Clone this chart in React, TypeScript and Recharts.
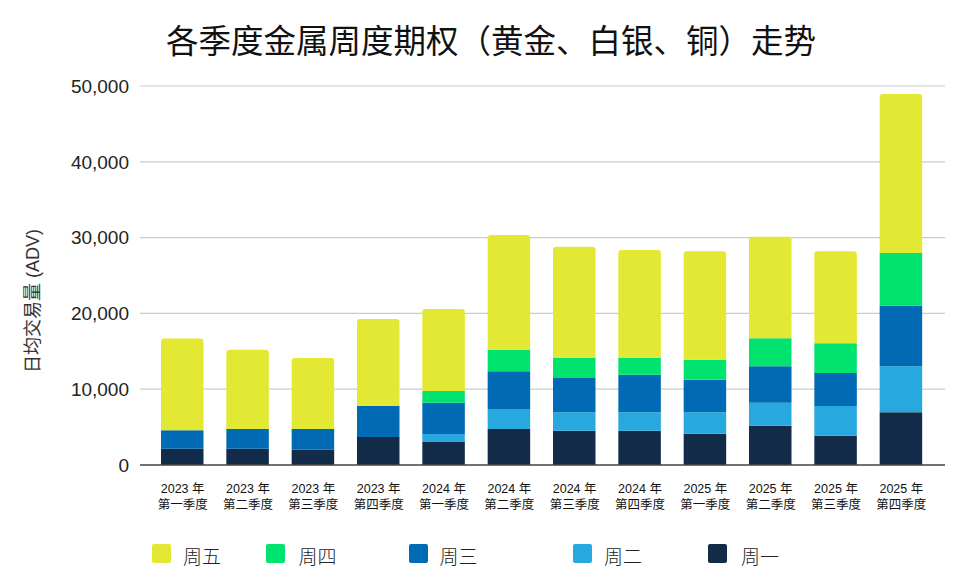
import { BarChart, Bar, XAxis, YAxis, CartesianGrid } from 'recharts'

const YEARS = ['2023 年', '2023 年', '2023 年', '2023 年', '2024 年', '2024 年', '2024 年', '2024 年', '2025 年', '2025 年', '2025 年', '2025 年']
const QUARTERS = ['第一季度', '第二季度', '第三季度', '第四季度', '第一季度', '第二季度', '第三季度', '第四季度', '第一季度', '第二季度', '第三季度', '第四季度']

// 日均交易量 by weekday, stacked bottom (周一) to top (周五)
const MON = [2150, 2150, 2000, 3700, 3030, 4750, 4530, 4530, 4130, 5190, 3870, 6950]
const TUE = [0, 0, 0, 0, 1060, 2640, 2420, 2420, 2820, 3030, 3910, 6070]
const WED = [2450, 2600, 2750, 4130, 4130, 4970, 4530, 4970, 4310, 4800, 4360, 8000]
const THU = [0, 0, 0, 0, 1540, 2810, 2630, 2190, 2640, 3690, 3910, 6950]
const FRI = [12100, 10450, 9350, 11430, 10820, 15170, 14690, 14250, 14290, 13410, 12140, 20970]

const Y_TICKS = [0, 10000, 20000, 30000, 40000, 50000]

const SERIES = [
  { key: 'mon', name: '周一', color: '#122b49', values: MON },
  { key: 'tue', name: '周二', color: '#27a8df', values: TUE },
  { key: 'wed', name: '周三', color: '#006bb4', values: WED },
  { key: 'thu', name: '周四', color: '#00e36f', values: THU },
  { key: 'fri', name: '周五', color: '#e2e833', values: FRI },
]

// legend order as drawn under the chart
const LEGEND = [
  { name: '周五', color: '#e2e833', box: 151.5, text: 183 },
  { name: '周四', color: '#00e36f', box: 265.5, text: 298.5 },
  { name: '周三', color: '#006bb4', box: 408.5, text: 439.5 },
  { name: '周二', color: '#27a8df', box: 572.5, text: 604 },
  { name: '周一', color: '#122b49', box: 707.5, text: 741 },
]

const DATA = YEARS.map((y, i) => {
  const row: any = { cat: `${y}\n${QUARTERS[i]}` }
  SERIES.forEach(s => { row[s.key] = s.values[i] })
  return row
})

const SANS = '"Liberation Sans", Arial, "Noto Sans CJK SC", sans-serif'
const CJK = '"Noto Sans CJK SC", "Liberation Sans", sans-serif'

function QuarterTick({ x, y, payload }: any) {
  const [a, b] = String(payload.value).split('\n')
  return (
    <text x={x} y={y} textAnchor="middle" fill="#111" fontSize={12.5} fontFamily={SANS}>
      <tspan x={x} dy={26}>{a}</tspan>
      <tspan x={x} dy={15.5}>{b}</tspan>
    </text>
  )
}

export default function App() {
  return (
    <div style={{ position: 'absolute', left: 0, top: 0, width: 966, height: 587, background: '#fff', fontFamily: CJK }}>
      <div style={{ position: 'absolute', left: 0, top: 22.5, width: 982, textAlign: 'center', fontSize: 32.5, lineHeight: '32.5px', color: '#111', whiteSpace: 'nowrap' }}>
        各季度金属周度期权（黄金、白银、铜）走势
      </div>
      <div style={{ position: 'absolute', left: 33, top: 301, transform: 'translate(-50%, -50%) rotate(-90deg)', fontSize: 18, lineHeight: '18px', color: '#333', whiteSpace: 'nowrap', fontFamily: SANS }}>
        日均交易量 (ADV)
      </div>
      <BarChart width={966} height={587} data={DATA} margin={{ top: 86, right: 21, bottom: 72, left: 60 }}>
        <CartesianGrid vertical={false} stroke="#cccccc" strokeWidth={1.2} />
        <XAxis dataKey="cat" interval={0} tickLine={false} tickSize={0} height={50}
          axisLine={{ stroke: '#4a4a4a', strokeWidth: 1.5 }} padding={{ left: 10, right: 11 }}
          tick={<QuarterTick />} />
        <YAxis width={80} domain={[0, 50000]} ticks={Y_TICKS} tickLine={false} axisLine={false}
          tickSize={0} tickMargin={11} tickFormatter={(v: number) => v.toLocaleString('en-US')}
          tick={{ fill: '#222', fontSize: 19, fontFamily: SANS }} />
        {SERIES.map(s => (
          <Bar key={s.key} dataKey={s.key} name={s.name} stackId="a" fill={s.color} barSize={42.5}
            radius={s.key === 'fri' ? [3, 3, 0, 0] : 0} isAnimationActive={false} />
        ))}
      </BarChart>
      {LEGEND.map(l => (
        <div key={l.name}>
          <div style={{ position: 'absolute', left: l.box, top: 543.5, width: 19.5, height: 19.5, borderRadius: 2, background: l.color }} />
          <div style={{ position: 'absolute', left: l.text, top: 546, fontSize: 19, lineHeight: '19px', color: '#222', fontWeight: 300, whiteSpace: 'nowrap' }}>
            {l.name}
          </div>
        </div>
      ))}
    </div>
  )
}
